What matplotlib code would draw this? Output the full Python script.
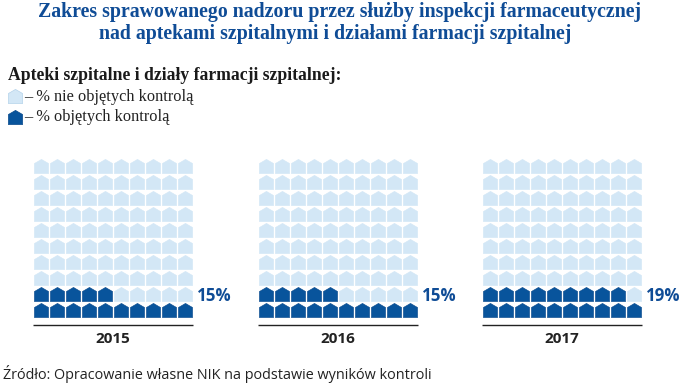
import matplotlib
matplotlib.use("Agg")
import matplotlib.pyplot as plt
from matplotlib.path import Path

years = ["2015", "2016", "2017"]
percent_checked = [15, 15, 19]
panel_left_px = [32.6, 257.6, 481.8]
n_rows = 10
n_cols = 10

DARK = "#08549c"
DARK_EDGE = "#0a4a8c"
LIGHT = "#d3e7f6"
BLUE_TEXT = "#0f4c96"
W, H = 688, 388
GRID_W, GRID_TOP, GRID_BOTTOM = 160, 157.5, 317.5

house = Path([(-1, -1), (-1, 0.42), (0, 1), (1, 0.42), (1, -1), (-1, -1)], closed=True)

fig = plt.figure(figsize=(W / 100, H / 100), dpi=100, facecolor="white")


def px_text(x, y, s, **kw):
    fig.text(x / W, 1 - y / H, s, **kw)


title_kw = dict(family="Liberation Serif", weight="bold", color=BLUE_TEXT, fontsize=14.3,
                ha="center", va="center")
px_text(339.5, 11.5, "Zakres sprawowanego nadzoru przez służby inspekcji farmaceutycznej", **title_kw)
px_text(335, 33.5, "nad aptekami szpitalnymi i działami farmacji szpitalnej", **title_kw)

px_text(8, 76, "Apteki szpitalne i działy farmacji szpitalnej:", family="Liberation Serif",
        weight="bold", color="#1a1a1a", fontsize=12.7, ha="left", va="center")
px_text(24, 97, "– % nie objętych kontrolą", family="Liberation Serif", color="#222222",
        fontsize=11.8, ha="left", va="center")
px_text(24, 117, "– % objętych kontrolą", family="Liberation Serif", color="#222222",
        fontsize=11.8, ha="left", va="center")

# legend swatches
lg = fig.add_axes([0, 0, 1, 1], facecolor="none")
lg.set_xlim(0, W)
lg.set_ylim(H, 0)
lg.axis("off")
lg.scatter([15], [96], marker=house, s=104, color=LIGHT, edgecolor="#b5d3ea", linewidth=0.5)
lg.scatter([15], [117], marker=house, s=104, color=DARK, edgecolor=DARK_EDGE, linewidth=0.5)

for year, pct, left in zip(years, percent_checked, panel_left_px):
    ax = fig.add_axes([left / W, 1 - GRID_BOTTOM / H, GRID_W / W, (GRID_BOTTOM - GRID_TOP) / H],
                      facecolor="none")
    ax.set_xlim(0, n_cols)
    ax.set_ylim(0, n_rows)
    ax.axis("off")
    for i in range(n_rows * n_cols):
        row, col = divmod(i, n_cols)
        filled = i < pct
        ax.scatter(col + 0.5, row + 0.5, marker=house, s=104, clip_on=False,
                   color=DARK if filled else LIGHT,
                   edgecolor=DARK_EDGE if filled else LIGHT, linewidth=0.4)
    ax.text(1.026, 0.135, f"{pct}%", transform=ax.transAxes, family="Open Sans", weight="bold",
            color=BLUE_TEXT, fontsize=12.2, ha="left", va="center")
    ax.plot([0.004, 1], [-0.047, -0.047], transform=ax.transAxes, color="#222222", lw=1.0,
            clip_on=False, solid_capstyle="butt")
    ax.text(0.5, -0.134, year, transform=ax.transAxes, family="Open Sans", weight="bold",
            color="#222222", fontsize=11, ha="center", va="center")

px_text(3, 374, "Źródło: Opracowanie własne NIK na podstawie wyników kontroli", family="Open Sans",
        color="#222222", fontsize=10.35, ha="left", va="center")

fig.savefig("out.png", dpi=100)
